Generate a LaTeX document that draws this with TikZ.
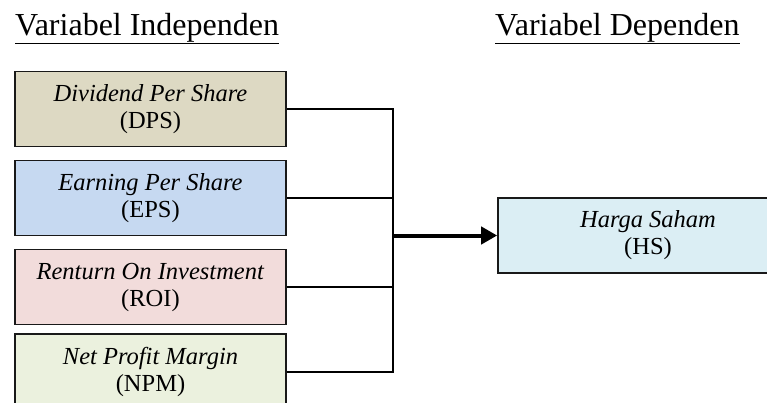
\documentclass[tikz,border=0pt]{standalone}
\usepackage{fontspec}
\setmainfont{Liberation Serif}
\usetikzlibrary{arrows.meta}
\definecolor{cdps}{HTML}{DDD9C3}
\definecolor{ceps}{HTML}{C6D9F1}
\definecolor{croi}{HTML}{F2DCDB}
\definecolor{cnpm}{HTML}{EBF1DE}
\definecolor{chs}{HTML}{DBEEF4}
\tikzset{
  varbox/.style={draw=black!90, line width=1.6pt, minimum width=271pt, minimum height=75pt,
    inner sep=0pt, align=center, font=\fontsize{24.5}{27}\selectfont},
  title/.style={anchor=base west, inner sep=0pt, font=\fontsize{32}{36}\selectfont},
  conn/.style={line width=2pt, draw=black},
  bigarrow/.style={line width=4pt, draw=black, -{Triangle[length=16pt,width=17pt]}}
}
\begin{document}
\begin{tikzpicture}[x=1pt,y=-1pt]
\path[use as bounding box, clip] (0,0) rectangle (767,402);
\fill[white] (0,0) rectangle (767,402);
\node[title] (ti) at (15,35) {\underline{Variabel Independen}};
\node[title] (td) at (495,35) {\underline{Variabel Dependen}};
\node[varbox, fill=cdps] (dps) at (150.5,109) {\textit{Dividend Per Share}\\(DPS)};
\node[varbox, fill=ceps] (eps) at (150.5,198) {\textit{Earning Per Share}\\(EPS)};
\node[varbox, fill=croi] (roi) at (150.5,287) {\textit{Renturn On Investment}\\(ROI)};
\node[varbox, fill=cnpm] (npm) at (150.5,371.5) {\textit{Net Profit Margin}\\(NPM)};
\node[varbox, fill=chs, minimum width=300pt] (hs) at (648,235.5) {\textit{Harga Saham}\\(HS)};
\coordinate (bus) at (393,0);
\draw[conn] (dps.east) -- (dps.east -| bus);
\draw[conn] (eps.east) -- (eps.east -| bus);
\draw[conn] (roi.east) -- (roi.east -| bus);
\draw[conn] (npm.east) -- (npm.east -| bus);
\draw[conn, line cap=rect] (dps.east -| bus) -- (npm.east -| bus);
\draw[bigarrow] (hs.west -| bus) -- (hs.west);
\end{tikzpicture}
\end{document}
